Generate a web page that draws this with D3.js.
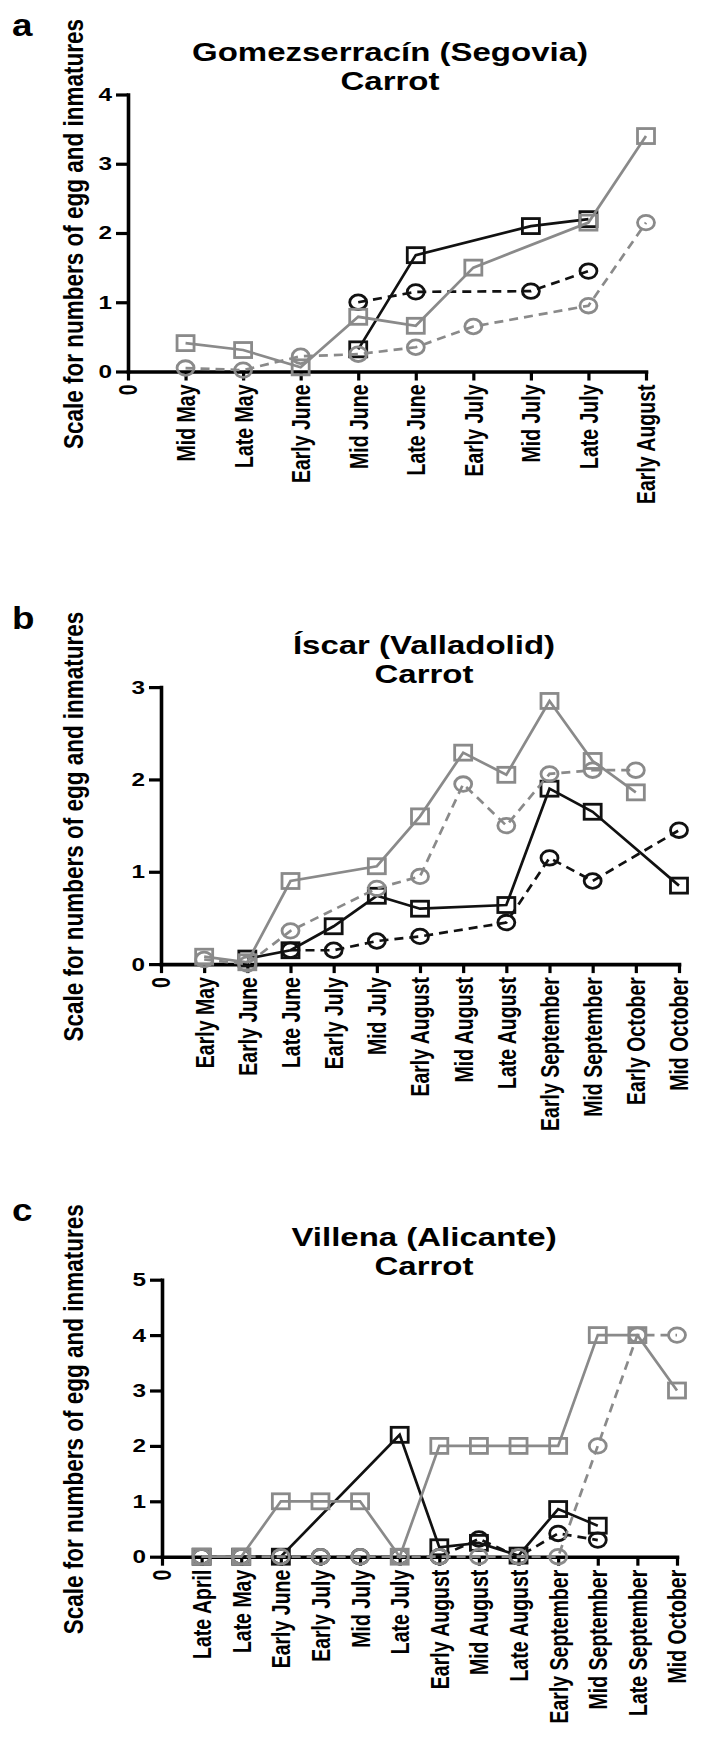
<!DOCTYPE html>
<html><head><meta charset="utf-8">
<script src="https://cdn.jsdelivr.net/npm/d3@7"></script>
<style>
body{margin:0;background:#fff}
text{font-family:"Liberation Sans",Arial,Helvetica,sans-serif;font-weight:bold;fill:#000}
</style>
</head><body>
<svg id="chart" width="705" height="1744"></svg>
<script>
// ---------- data ----------
const yAxisTitle = "Scale for numbers of egg and inmatures";

const catsA = ["Mid May","Late May","Early June","Mid June","Late June","Early July","Mid July","Late July","Early August"];
const aBlackSquares = [null,null,null,0.32,1.68,null,2.1,2.2,null];
const aBlackCircles = [null,null,null,1.0,1.15,null,1.16,1.45,null];
const aGraySquares  = [0.41,0.31,0.06,0.79,0.66,1.5,null,2.15,3.4];
const aGrayCircles  = [0.05,0.02,0.22,0.25,0.35,0.65,null,0.95,2.15];
const aTicks = [0,1,2,3,4];

const catsB = ["Early May","Early June","Late June","Early July","Mid July","Early August","Mid August","Late August","Early September","Mid September","Early October","Mid October"];
const bBlackSquares = [null,0.06,0.15,0.41,0.74,0.6,null,0.64,1.9,1.65,null,0.85];
const bBlackCircles = [null,null,0.15,0.15,0.25,0.3,null,0.45,1.15,0.9,null,1.45];
const bGraySquares  = [0.08,0.02,0.9,null,1.06,1.6,2.29,2.05,2.85,2.2,1.86,null];
const bGrayCircles  = [0.05,0.0,0.36,null,0.82,0.95,1.95,1.5,2.06,2.1,2.1,null];
const bTicks = [0,1,2,3];

const catsC = ["Late April","Late May","Early June","Early July","Mid July","Late July","Early August","Mid August","Late August","Early September","Mid September","Late September","Mid October"];
const cBlackSquares = [0,0,0,null,null,2.2,0.17,0.25,0.02,0.86,0.56,null,null];
const cBlackCircles = [0,0,0,0,0,0,0,0.32,0,0.42,0.3,null,null];
const cGraySquares  = [0,0,1,1,1,0,2,2,2,2,4,4,3];
const cGrayCircles  = [0,0,0,0,0,0,0,0,0,0,2,4,4];
const cTicks = [0,1,2,3,4,5];

// ---------- layout / style ----------
const BLACK = "#111", GRAY = "#8a8a8a";
const panels = [
  {letter:"a", title:"Gomezserracín (Segovia)", cats:catsA, ticks:aTicks,
   bs:aBlackSquares, bc:aBlackCircles, gs:aGraySquares, gc:aGrayCircles,
   top:0, x0:128, x1:646, titleX:390},
  {letter:"b", title:"Íscar (Valladolid)", cats:catsB, ticks:bTicks,
   bs:bBlackSquares, bc:bBlackCircles, gs:bGraySquares, gc:bGrayCircles,
   top:592.6, x0:161, x1:679, titleX:424},
  {letter:"c", title:"Villena (Alicante)", cats:catsC, ticks:cTicks,
   bs:cBlackSquares, bc:cBlackCircles, gs:cGraySquares, gc:cGrayCircles,
   top:1185.2, x0:162, x1:677, titleX:424}
];

const svg = d3.select("#chart");
svg.append("rect").attr("width",705).attr("height",1744).attr("fill","#fff");

function stext(g, x, y, str, size, anchor, sx, rot, dy){
  return g.append("text")
    .attr("transform", `translate(${x},${y}) scale(${sx},1)` + (rot ? ` rotate(${rot})` : ""))
    .attr("text-anchor", anchor)
    .attr("font-size", size)
    .attr("dy", dy || 0)
    .text(str);
}

panels.forEach(p => {
  const g = svg.append("g");
  const n = p.cats.length;
  const yMax = d3.max(p.ticks);
  const yBottom = p.top + 371.5, yTop = p.top + 94.5;
  const x = d3.scaleLinear().domain([0, n]).range([p.x0, p.x1]);
  const y = d3.scaleLinear().domain([0, yMax]).range([yBottom, yTop]);

  // letter, titles
  stext(g, 12, p.top + 36, p.letter, 32, "start", 1.15);
  stext(g, p.titleX, p.top + 61, p.title, 25, "middle", 1.32);
  stext(g, p.titleX, p.top + 90, "Carrot", 25, "middle", 1.32);
  stext(g, 83, p.top + 234, yAxisTitle, 22.5, "middle", 1.2, -90);

  // axes
  const xAxis = d3.axisBottom(x).tickValues(d3.range(0, n + 1)).tickSize(9).tickSizeOuter(0).tickFormat("");
  const yAxis = d3.axisLeft(y).tickValues(p.ticks).tickSize(12).tickSizeOuter(0).tickFormat("");
  const gx = g.append("g").attr("transform", `translate(0,${yBottom})`).call(xAxis);
  const gy = g.append("g").attr("transform", `translate(${p.x0},0)`).call(yAxis);
  [gx, gy].forEach(a => {
    a.select(".domain").attr("stroke", "#000").attr("stroke-width", 3.6).attr("stroke-linecap","square");
    a.selectAll(".tick line").attr("stroke", "#000").attr("stroke-width", 3.2);
  });

  // tick labels
  p.ticks.forEach(t => stext(g, p.x0 - 16, y(t), String(t), 18, "end", 1.35, 0, "0.36em"));
  ["0"].concat(p.cats).forEach((c, i) =>
    stext(g, x(i), yBottom + 13, c, 19.5, "end", 1.35, -90, "0.36em"));

  // series (black first, gray on top)
  const defs = [
    {vals:p.bs, color:BLACK, dash:null, shape:"sq"},
    {vals:p.bc, color:BLACK, dash:"9,6", shape:"ci"},
    {vals:p.gs, color:GRAY, dash:null, shape:"sq"},
    {vals:p.gc, color:GRAY, dash:"9,6", shape:"ci"}
  ];
  defs.forEach(s => {
    const pts = s.vals.map((v,i) => ({i:i+1, v})).filter(d => d.v !== null);
    const line = d3.line().x(d => x(d.i)).y(d => y(d.v));
    g.append("path").datum(pts).attr("d", line)
      .attr("fill","none").attr("stroke", s.color).attr("stroke-width", 2.7)
      .attr("stroke-dasharray", s.dash);
    if (s.shape === "sq") {
      g.selectAll(null).data(pts).enter().append("rect")
        .attr("x", d => x(d.i) - 8.5).attr("y", d => y(d.v) - 7.5)
        .attr("width", 17).attr("height", 15)
        .attr("fill","none").attr("stroke", s.color).attr("stroke-width", 2.8);
    } else {
      g.selectAll(null).data(pts).enter().append("ellipse")
        .attr("cx", d => x(d.i)).attr("cy", d => y(d.v))
        .attr("rx", 8.5).attr("ry", 7.3)
        .attr("fill","none").attr("stroke", s.color).attr("stroke-width", 2.8);
    }
  });
});
</script>
</body></html>
